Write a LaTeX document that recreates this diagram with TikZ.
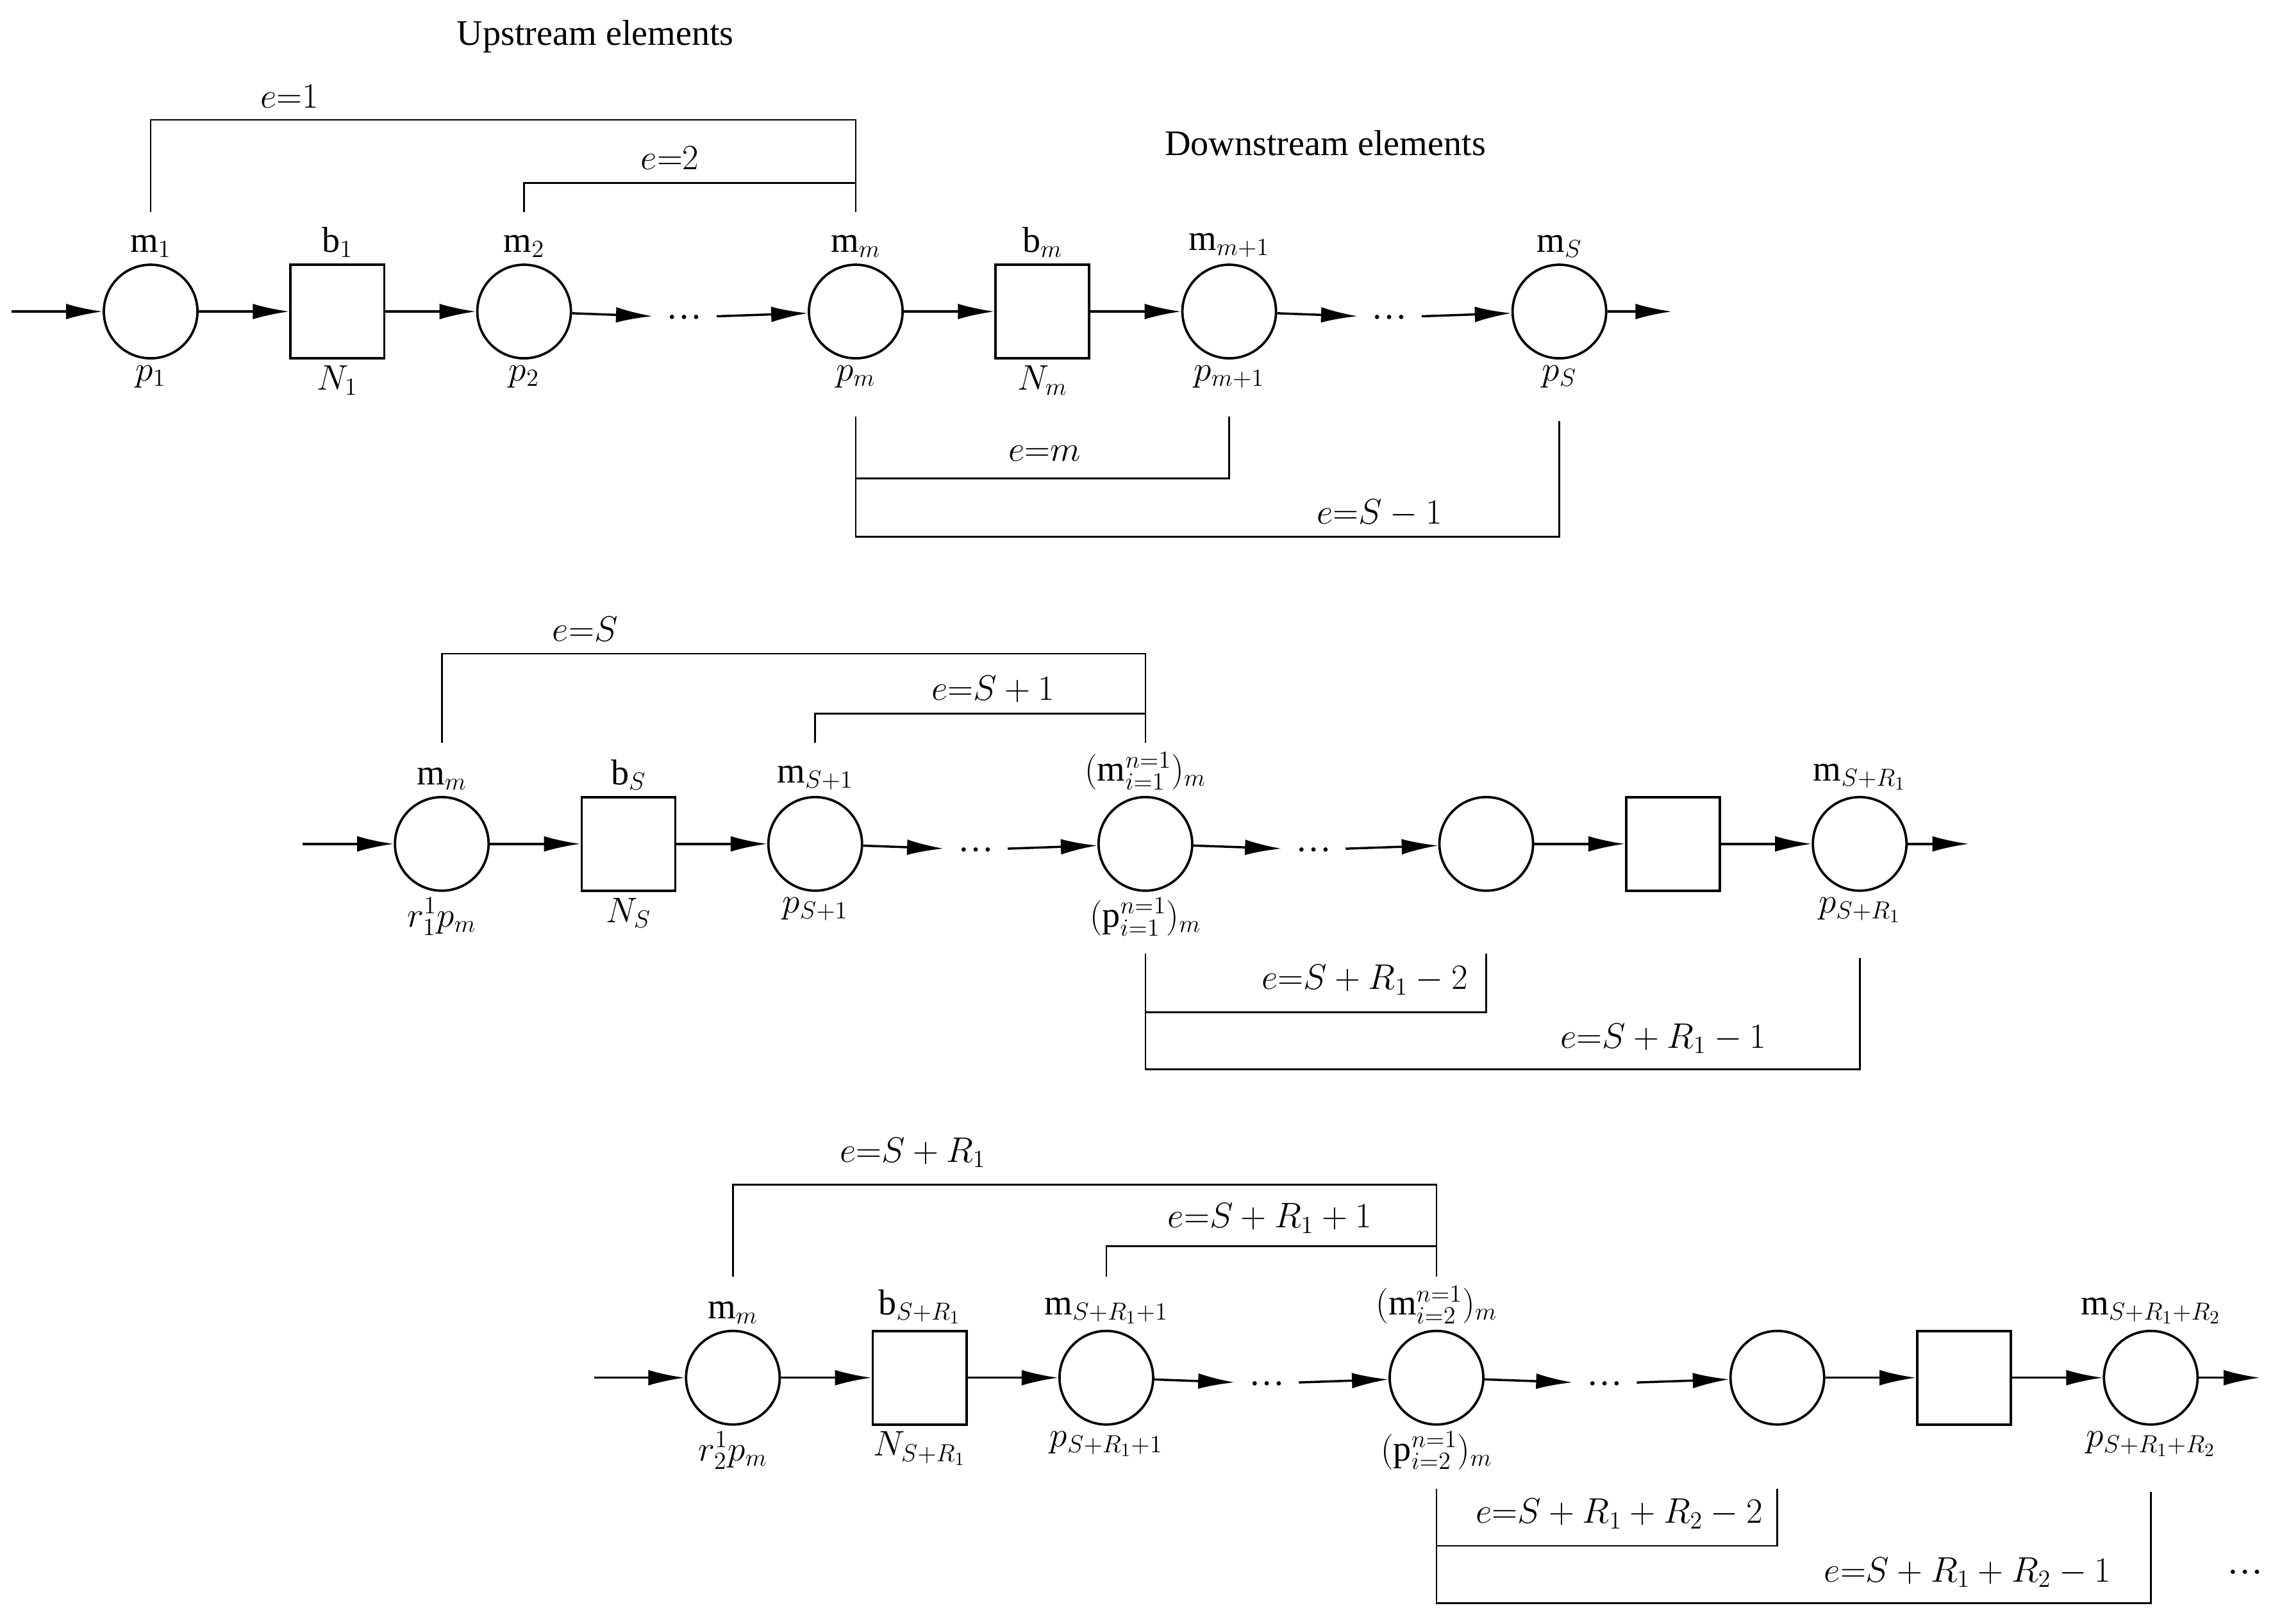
\documentclass[tikz,border=0pt]{standalone}
\usepackage{fontspec}
\setmainfont{Liberation Serif}
\usepackage{amsmath}
\usetikzlibrary{calc, positioning, arrows.meta}

\tikzset{
  place/.style={circle, draw, line width=1.4pt, minimum size=1.92cm, inner sep=0pt, label distance=1pt},
  buf/.style={rectangle, draw, line width=1.4pt, minimum size=1.92cm, inner sep=0pt, label distance=1pt},
  flow/.style={line width=1.3pt, -{Latex[length=0.75cm, width=0.32cm]}},
  link/.style={line width=1pt},
  dots/.style={minimum width=1.3cm, inner sep=0pt, yshift=-0.12cm},
  tag/.style={inner sep=1pt}
}

\begin{document}
\begin{tikzpicture}[x=0.03cm, y=-0.03cm, font=\fontsize{21}{25}\selectfont]
\useasboundingbox (0,0) rectangle (1560,1110);

% row 1
\node[tag] at (407,25) {Upstream elements};
\node[tag] at (906,98) {Downstream elements};
\coordinate (in1) at (8,213);
\node[place, label=above:$\mathrm{m}_1$, label=below:$p_1$] (m1) at (103,213) {};
\node[buf, label=above:$\mathrm{b}_1$, label=below:$N_1$] (b1)[right=1.86cm of m1] {};
\node[place, label=above:$\mathrm{m}_2$, label=below:$p_2$] (m2)[right=1.86cm of b1] {};
\node[dots] (d1) at (468,213) {\dots};
\node[place, label=above:$\mathrm{m}_m$, label=below:$p_m$] (mm) at (585,213) {};
\node[buf, label=above:$\mathrm{b}_m$, label=below:$N_m$] (bm)[right=1.86cm of mm] {};
\node[place, label=above:$\mathrm{m}_{m+1}$, label=below:$p_{m+1}$] (mm1)[right=1.86cm of bm] {};
\node[dots] (d2) at (950,213) {\dots};
\node[place, label=above:$\mathrm{m}_S$, label=below:$p_S$] (mS) at (1066,213) {};
\coordinate (out1) at (1143,213);

\draw[flow] (in1) -- (m1);
\draw[flow] (m1) -- (b1);
\draw[flow] (b1) -- (m2);
\draw[flow] (m2) -- (d1);
\draw[flow] (d1) -- (mm);
\draw[flow] (mm) -- (bm);
\draw[flow] (bm) -- (mm1);
\draw[flow] (mm1) -- (d2);
\draw[flow] (d2) -- (mS);
\draw[flow] (mS) -- (out1);

\draw[link] ($(m1)+(0,-68)$) -- ($(m1)+(0,-131)$) -| ($(mm)+(0,-68)$);
\draw[link] ($(m2)+(0,-68)$) -- ($(m2)+(0,-88)$) -- ($(mm)+(0,-88)$);
\draw[link] ($(mm)+(0,72)$) -- ($(mm)+(0,114)$) -| ($(mm1)+(0,72)$);
\draw[link] ($(mm)+(0,114)$) -- ($(mm)+(0,154)$) -| ($(mS)+(0,75)$);
\node[tag] at (198,66) {$e{=}1$};
\node[tag] at (458,108) {$e{=}2$};
\node[tag] at (714,310) {$e{=}m$};
\node[tag] at (943,351) {$e{=}S-1$};

% row 2
\coordinate (in2) at (207,577);
\node[place, label=above:$\mathrm{m}_m$, label=below:$r_1^1p_m$] (n1) at (302,577) {};
\node[buf, label=above:$\mathrm{b}_S$, label=below:$N_S$] (c1)[right=1.86cm of n1] {};
\node[place, label=above:$\mathrm{m}_{S+1}$, label=below:$p_{S+1}$] (n2)[right=1.86cm of c1] {};
\node[dots] (d3) at (667,577) {\dots};
\node[place, label=above:$(\mathrm{m}_{i=1}^{n=1})_m$, label=below:$(\mathrm{p}_{i=1}^{n=1})_m$] (n3) at (783,577) {};
\node[dots] (d4) at (898,577) {\dots};
\node[place] (n4) at (1016,577) {};
\node[buf] (c2)[right=1.86cm of n4] {};
\node[place, label=above:$\mathrm{m}_{S+R_1}$, label=below:$p_{S+R_1}$] (n5)[right=1.86cm of c2] {};
\coordinate (out2) at (1346,577);

\draw[flow] (in2) -- (n1);
\draw[flow] (n1) -- (c1);
\draw[flow] (c1) -- (n2);
\draw[flow] (n2) -- (d3);
\draw[flow] (d3) -- (n3);
\draw[flow] (n3) -- (d4);
\draw[flow] (d4) -- (n4);
\draw[flow] (n4) -- (c2);
\draw[flow] (c2) -- (n5);
\draw[flow] (n5) -- (out2);

\draw[link] ($(n1)+(0,-69)$) -- ($(n1)+(0,-130)$) -| ($(n3)+(0,-69)$);
\draw[link] ($(n2)+(0,-69)$) -- ($(n2)+(0,-89)$) -- ($(n3)+(0,-89)$);
\draw[link] ($(n3)+(0,75)$) -- ($(n3)+(0,115)$) -| ($(n4)+(0,75)$);
\draw[link] ($(n3)+(0,115)$) -- ($(n3)+(0,154)$) -| ($(n5)+(0,78)$);
\node[tag] at (400,430) {$e{=}S$};
\node[tag] at (679,471) {$e{=}S+1$};
\node[tag] at (933,670) {$e{=}S+R_1-2$};
\node[tag] at (1137,710) {$e{=}S+R_1-1$};

% row 3
\coordinate (in3) at (406,942);
\node[place, label=above:$\mathrm{m}_m$, label=below:$r_2^1p_m$] (k1) at (501,942) {};
\node[buf, label=above:$\mathrm{b}_{S+R_1}$, label=below:$N_{S+R_1}$] (a1)[right=1.86cm of k1] {};
\node[place, label=above:$\mathrm{m}_{S+R_1+1}$, label=below:$p_{S+R_1+1}$] (k2)[right=1.86cm of a1] {};
\node[dots] (d5) at (866,942) {\dots};
\node[place, label=above:$(\mathrm{m}_{i=2}^{n=1})_m$, label=below:$(\mathrm{p}_{i=2}^{n=1})_m$] (k3) at (982,942) {};
\node[dots] (d6) at (1097,942) {\dots};
\node[place] (k4) at (1215,942) {};
\node[buf] (a2)[right=1.86cm of k4] {};
\node[place, label=above:$\mathrm{m}_{S+R_1+R_2}$, label=below:$p_{S+R_1+R_2}$] (k5)[right=1.86cm of a2] {};
\coordinate (out3) at (1545,942);

\draw[flow] (in3) -- (k1);
\draw[flow] (k1) -- (a1);
\draw[flow] (a1) -- (k2);
\draw[flow] (k2) -- (d5);
\draw[flow] (d5) -- (k3);
\draw[flow] (k3) -- (d6);
\draw[flow] (d6) -- (k4);
\draw[flow] (k4) -- (a2);
\draw[flow] (a2) -- (k5);
\draw[flow] (k5) -- (out3);

\draw[link] ($(k1)+(0,-69)$) -- ($(k1)+(0,-132)$) -| ($(k3)+(0,-69)$);
\draw[link] ($(k2)+(0,-69)$) -- ($(k2)+(0,-90)$) -- ($(k3)+(0,-90)$);
\draw[link] ($(k3)+(0,76)$) -- ($(k3)+(0,115)$) -| ($(k4)+(0,76)$);
\draw[link] ($(k3)+(0,115)$) -- ($(k3)+(0,154)$) -| ($(k5)+(0,78)$);
\node[tag] at (624,788) {$e{=}S+R_1$};
\node[tag] at (868,833) {$e{=}S+R_1+1$};
\node[tag] at (1107,1035) {$e{=}S+R_1+R_2-2$};
\node[tag] at (1345,1075) {$e{=}S+R_1+R_2-1$};
\node[tag] at (1535,1075) {\dots};
\end{tikzpicture}
\end{document}
